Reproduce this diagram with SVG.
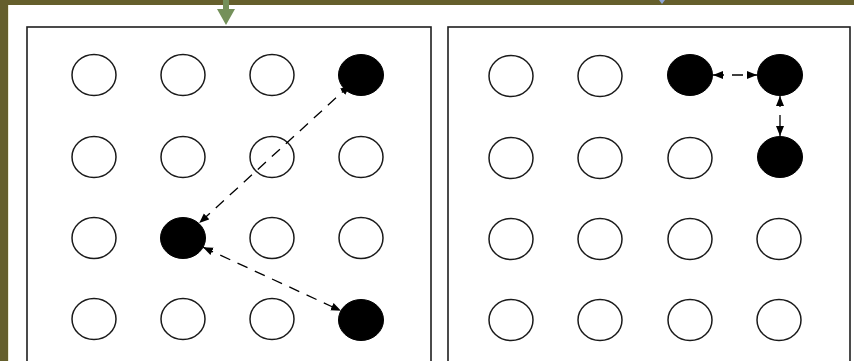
<svg xmlns="http://www.w3.org/2000/svg" width="854" height="361" viewBox="0 0 854 361">
<style>
.panel{fill:#ffffff;stroke:#1e1e1e;stroke-width:1.6}
.open{fill:#ffffff;stroke:#1a1a1a;stroke-width:1.5}
.filled{fill:#000000;stroke:#000000;stroke-width:1}
.link{fill:none;stroke:#000000;stroke-width:1.3;stroke-dasharray:11 8;marker-start:url(#ah);marker-end:url(#ah)}
</style>
<defs>
<marker id="ah" markerUnits="userSpaceOnUse" markerWidth="11" markerHeight="9" refX="10" refY="4" orient="auto-start-reverse">
<path d="M0,0 L10,4 L0,8 Z" fill="#000"/>
</marker>
</defs>
<rect x="0" y="0" width="854" height="361" fill="#ffffff"/>
<g id="frame">
<rect x="0" y="0" width="854" height="5" fill="#655f2c"/>
<rect x="0" y="0" width="8" height="361" fill="#655f2c"/>
<rect x="8" y="5" width="1" height="356" fill="#ecebd6"/>
<rect x="223" y="0" width="6" height="10" fill="#74905a"/>
<polygon points="217,9 235,9 226,25" fill="#74905a"/>
<polygon points="659,0 665,0 662,4" fill="#8ea6d6"/>
</g>
<g id="panel-left"><rect class="panel" x="27" y="27" width="404" height="345"/></g>
<g id="panel-right"><rect class="panel" x="448" y="27" width="402" height="345"/></g>

<g id="L-r1c1"><ellipse class="open" cx="94" cy="75" rx="22" ry="20.5"/></g>
<g id="L-r1c2"><ellipse class="open" cx="183" cy="75" rx="22" ry="20.5"/></g>
<g id="L-r1c3"><ellipse class="open" cx="272" cy="75" rx="22" ry="20.5"/></g>
<g id="L-r2c1"><ellipse class="open" cx="94" cy="157" rx="22" ry="20.5"/></g>
<g id="L-r2c2"><ellipse class="open" cx="183" cy="157" rx="22" ry="20.5"/></g>
<g id="L-r2c3"><ellipse class="open" cx="272" cy="157" rx="22" ry="20.5"/></g>
<g id="L-r2c4"><ellipse class="open" cx="361" cy="157" rx="22" ry="20.5"/></g>
<g id="L-r3c1"><ellipse class="open" cx="94" cy="238" rx="22" ry="20.5"/></g>
<g id="L-r3c3"><ellipse class="open" cx="272" cy="238" rx="22" ry="20.5"/></g>
<g id="L-r3c4"><ellipse class="open" cx="361" cy="238" rx="22" ry="20.5"/></g>
<g id="L-r4c1"><ellipse class="open" cx="94" cy="319" rx="22" ry="20.5"/></g>
<g id="L-r4c2"><ellipse class="open" cx="183" cy="319" rx="22" ry="20.5"/></g>
<g id="L-r4c3"><ellipse class="open" cx="272" cy="319" rx="22" ry="20.5"/></g>

<g id="R-r1c1"><ellipse class="open" cx="511" cy="76" rx="22" ry="20.5"/></g>
<g id="R-r1c2"><ellipse class="open" cx="600" cy="76" rx="22" ry="20.5"/></g>
<g id="R-r2c1"><ellipse class="open" cx="511" cy="158" rx="22" ry="20.5"/></g>
<g id="R-r2c2"><ellipse class="open" cx="600" cy="158" rx="22" ry="20.5"/></g>
<g id="R-r2c3"><ellipse class="open" cx="690" cy="158" rx="22" ry="20.5"/></g>
<g id="R-r3c1"><ellipse class="open" cx="511" cy="239" rx="22" ry="20.5"/></g>
<g id="R-r3c2"><ellipse class="open" cx="600" cy="239" rx="22" ry="20.5"/></g>
<g id="R-r3c3"><ellipse class="open" cx="690" cy="239" rx="22" ry="20.5"/></g>
<g id="R-r3c4"><ellipse class="open" cx="779" cy="239" rx="22" ry="20.5"/></g>
<g id="R-r4c1"><ellipse class="open" cx="511" cy="320" rx="22" ry="20.5"/></g>
<g id="R-r4c2"><ellipse class="open" cx="600" cy="320" rx="22" ry="20.5"/></g>
<g id="R-r4c3"><ellipse class="open" cx="690" cy="320" rx="22" ry="20.5"/></g>
<g id="R-r4c4"><ellipse class="open" cx="779" cy="320" rx="22" ry="20.5"/></g>

<g id="connectors">
<line class="link" x1="350" y1="85" x2="199.2" y2="223.1"/>
<line class="link" x1="203" y1="247.2" x2="341" y2="310.8"/>
<line class="link" x1="713" y1="75" x2="757" y2="75"/>
<line class="link" x1="780" y1="96" x2="780" y2="136"/>
</g>

<g id="L-r1c4"><ellipse class="filled" cx="361" cy="75" rx="22.5" ry="20.5"/></g>
<g id="L-r3c2"><ellipse class="filled" cx="183" cy="238" rx="22.5" ry="20.5"/></g>
<g id="L-r4c4"><ellipse class="filled" cx="361" cy="320" rx="22.5" ry="20.5"/></g>
<g id="R-r1c3"><ellipse class="filled" cx="690" cy="75" rx="22.5" ry="20.5"/></g>
<g id="R-r1c4"><ellipse class="filled" cx="780" cy="75" rx="22.5" ry="20.5"/></g>
<g id="R-r2c4"><ellipse class="filled" cx="780" cy="157" rx="22.5" ry="20.5"/></g>
</svg>
